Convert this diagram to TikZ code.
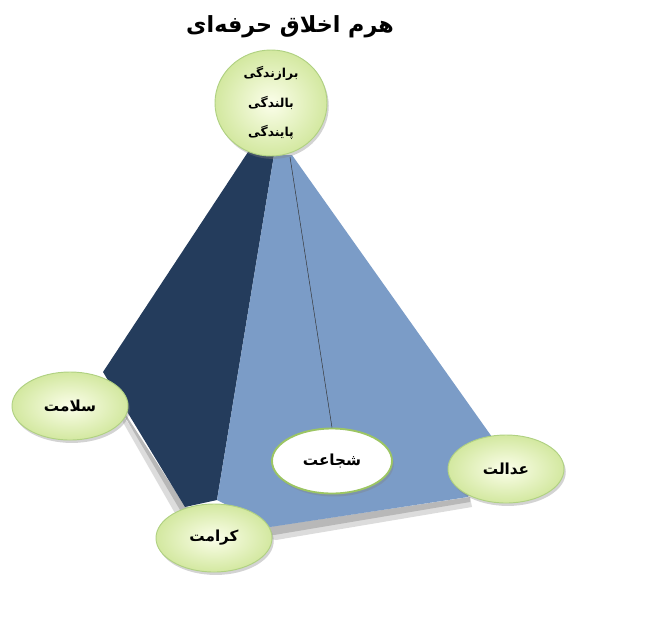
\documentclass[tikz,border=0pt]{standalone}
\usepackage{fontspec}
\usepackage{tikz}
\usetikzlibrary{shapes.geometric,shadows,positioning}
\TeXXeTstate=1
\newfontfamily\farsi[Script=Arabic]{DejaVu Sans}
\definecolor{facedark}{HTML}{243C5C}
\definecolor{facelight}{HTML}{7B9CC7}
\definecolor{leafgreen}{HTML}{9CC563}
\definecolor{paleyellow}{HTML}{FBFEEA}
\definecolor{palegreen}{HTML}{D3E8A0}
\definecolor{shadowgray}{HTML}{9A9A9A}
\tikzset{
  virtue/.style={
    ellipse, draw=leafgreen!80, thick,
    inner color=paleyellow, outer color=palegreen,
    minimum width=3.48cm, minimum height=2.04cm, inner sep=0pt,
    font=\farsi\bfseries\fontsize{13}{15}\selectfont,
    drop shadow={shadow xshift=1.5pt, shadow yshift=-2.5pt, opacity=0.35}
  },
  virtuewhite/.style={
    virtue, inner color=white, outer color=white,
    draw=leafgreen, line width=1.6pt
  },
  facepart/.style={fill=#1, draw=none},
}

\begin{document}
\begin{tikzpicture}[x=0.03cm, y=-0.03cm]
  \useasboundingbox (0,0) rectangle (672,631);

  % Shadows under the pyramid
  \fill[shadowgray!35] (100,382) -- (180,522) -- (276,540) -- (472,507) -- (470,497) -- (268,527) -- (185,506) -- cycle;
  \fill[shadowgray!70] (102,378) -- (183,515) -- (274,535) -- (470,502) -- (470,497) -- (268,527) -- (185,506) -- cycle;

  % Faces
  \fill[facepart=facedark] (248,152) -- (274,155) -- (217,500) -- (185,507) -- (103,372) -- cycle;
  \fill[facepart=facelight] (274,155) -- (292,155) -- (492,437) -- (468,497) -- (270,527) -- (217,500) -- cycle;
  \coordinate (apex) at (290,157);

  % Title
  \node[font=\farsi\bfseries\fontsize{19}{23}\selectfont] (title) at (290,27) {\beginR هرم اخلاق حرفه‌ای\endR};

  % Virtues
  \node[virtuewhite, minimum width=3.6cm, minimum height=1.95cm] (shojaat) at (332,461) {\beginR شجاعت\endR};
  \draw[black!80, thin] (apex) -- (shojaat.north);
  \node[virtue, minimum width=3.36cm, minimum height=3.18cm, align=center,
        font=\farsi\bfseries\fontsize{10.5}{25}\selectfont] (top) at (271,103)
    {\beginR برازندگی\endR\\\beginR بالندگی\endR\\\beginR پایندگی\endR};
  \node[virtue] (salamat) at (70,406) {\beginR سلامت\endR};
  \node[virtue] (keramat) at (214,538) {\beginR کرامت\endR};
  \node[virtue] (edalat) at (506,469) {\beginR عدالت\endR};
\end{tikzpicture}
\end{document}
